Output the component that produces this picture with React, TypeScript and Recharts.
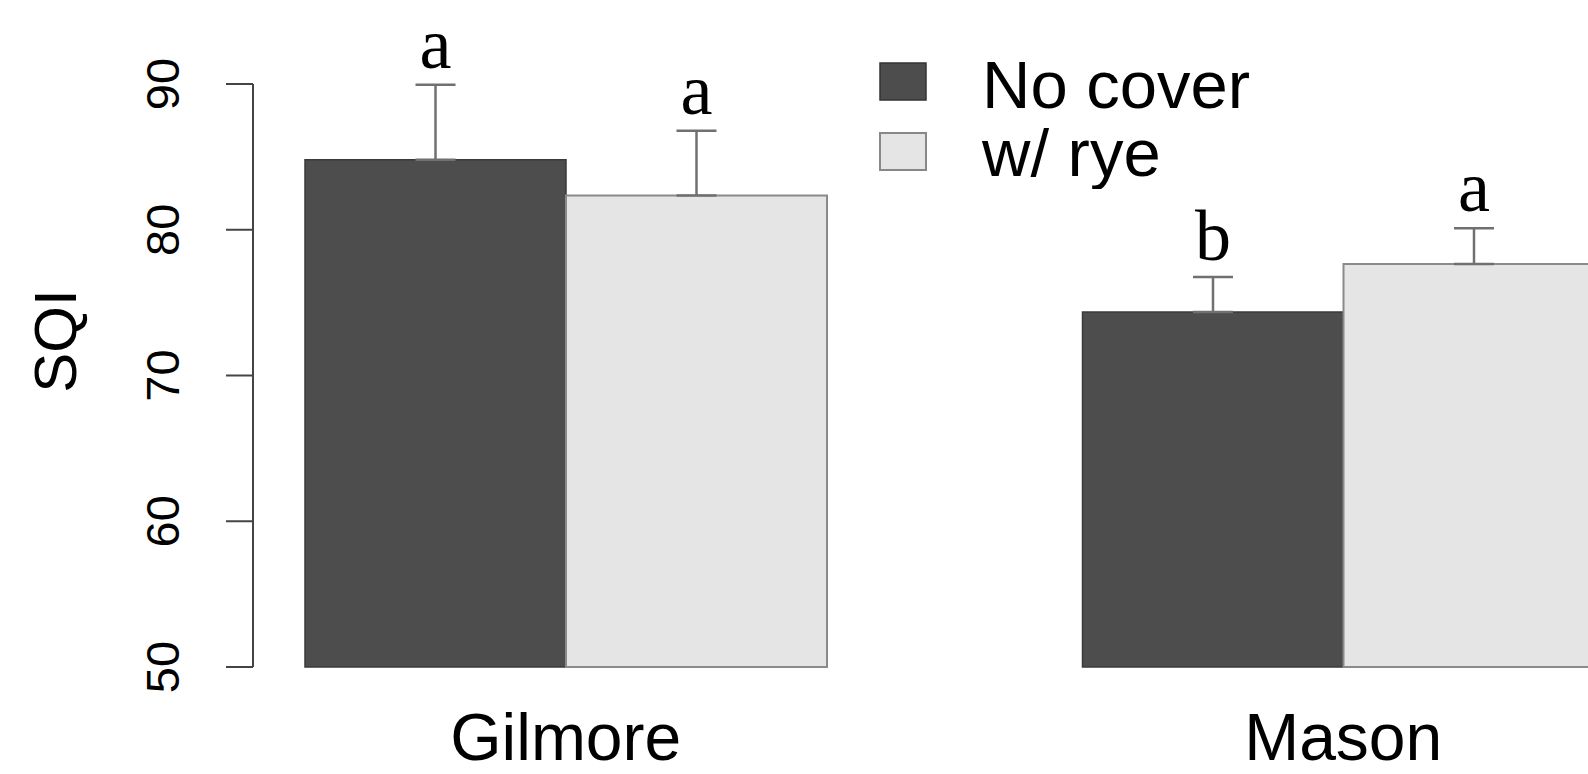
import { BarChart, Bar, XAxis, YAxis, ErrorBar, LabelList } from 'recharts';

const sites = ['Gilmore', 'Mason'];
const noCover = [84.8, 74.35];
const noCoverSe = [5.15, 2.4];
const noCoverLetters = ['a', 'b'];
const withRye = [82.35, 77.65];
const withRyeSe = [4.45, 2.45];
const withRyeLetters = ['a', 'a'];
const yTicks = [50, 60, 70, 80, 90];

const data = sites.map((site, i) => ({
  site,
  noCover: noCover[i],
  noCoverErr: [0, noCoverSe[i]],
  noCoverLetter: noCoverLetters[i],
  withRye: withRye[i],
  withRyeErr: [0, withRyeSe[i]],
  withRyeLetter: withRyeLetters[i],
}));

const DARK = '#4d4d4d';
const LIGHT = '#e5e5e5';
const SANS = '"Liberation Sans", Arial, Helvetica, sans-serif';
const SERIF = '"Liberation Serif", "Times New Roman", serif';

// letter sits above the error bar top; px per unit comes from the bar itself
const letterLabel = (values: number[], seList: number[]) => (props: any) => {
  const { x, y, width, height, value, index } = props;
  const pxPerUnit = height / (values[index] - 50);
  const top = y - seList[index] * pxPerUnit;
  return (
    <text x={x + width / 2} y={top - 17} textAnchor="middle" fontFamily={SERIF} fontSize={72} fill="#000">
      {value}
    </text>
  );
};

const YTick = (props: any) => {
  const { x, y, payload } = props;
  return (
    <text x={x} y={y} transform={`rotate(-90, ${x}, ${y})`} textAnchor="middle" fontFamily={SANS} fontSize={47} fill="#000">
      {payload.value}
    </text>
  );
};

const XTick = (props: any) => {
  const { x, payload } = props;
  return (
    <text x={x} y={760} textAnchor="middle" fontFamily={SANS} fontSize={66} fill="#000">
      {payload.value}
    </text>
  );
};

const LegendBox = () => (
  <svg width={420} height={150} style={{ display: 'block' }}>
    <rect x={11} y={24} width={46} height={37} fill={DARK} stroke="#333" strokeWidth={1.5} />
    <text x={113} y={69} fontFamily={SANS} fontSize={67} fill="#000">No cover</text>
    <rect x={11} y={94} width={46} height={37} fill={LIGHT} stroke="#888" strokeWidth={2} />
    <text x={113} y={137} fontFamily={SANS} fontSize={67} fill="#000">w/ rye</text>
  </svg>
);

export default function App() {
  return (
    <div style={{ position: 'absolute', left: 0, top: 0, width: 1588, height: 774, overflow: 'hidden', background: '#fff' }}>
      <BarChart
        width={1732}
        height={774}
        data={data}
        margin={{ top: 84, right: 0, bottom: 0, left: 0 }}
        barGap={0}
        barSize={261}
      >
        <XAxis
          dataKey="site"
          axisLine={false}
          tickLine={false}
          height={107}
          padding={{ left: -76, right: 0 }}
          tick={<XTick />}
          interval={0}
        />
        <YAxis
          domain={[50, 90]}
          ticks={yTicks}
          width={253}
          tickSize={27}
          tickMargin={47}
          axisLine={{ stroke: '#444', strokeWidth: 2 }}
          tickLine={{ stroke: '#444', strokeWidth: 2 }}
          tick={<YTick />}
          label={{
            value: 'SQI',
            content: () => (
              <text x={76} y={341} transform="rotate(-90, 76, 341)" textAnchor="middle" fontFamily={SANS} fontSize={60} fill="#000">
                SQI
              </text>
            ),
          }}
        />
        <Bar dataKey="noCover" name="No cover" fill={DARK} stroke="#3a3a3a" strokeWidth={1.5} isAnimationActive={false}>
          <ErrorBar dataKey="noCoverErr" width={20} stroke="#707070" strokeWidth={2.5} direction="y" />
          <LabelList dataKey="noCoverLetter" content={letterLabel(noCover, noCoverSe)} />
        </Bar>
        <Bar dataKey="withRye" name="w/ rye" fill={LIGHT} stroke="#8a8a8a" strokeWidth={2} isAnimationActive={false}>
          <ErrorBar dataKey="withRyeErr" width={20} stroke="#707070" strokeWidth={2.5} direction="y" />
          <LabelList dataKey="withRyeLetter" content={letterLabel(withRye, withRyeSe)} />
        </Bar>
      </BarChart>
      <div style={{ position: 'absolute', left: 869, top: 39 }}>
        <LegendBox />
      </div>
    </div>
  );
}
